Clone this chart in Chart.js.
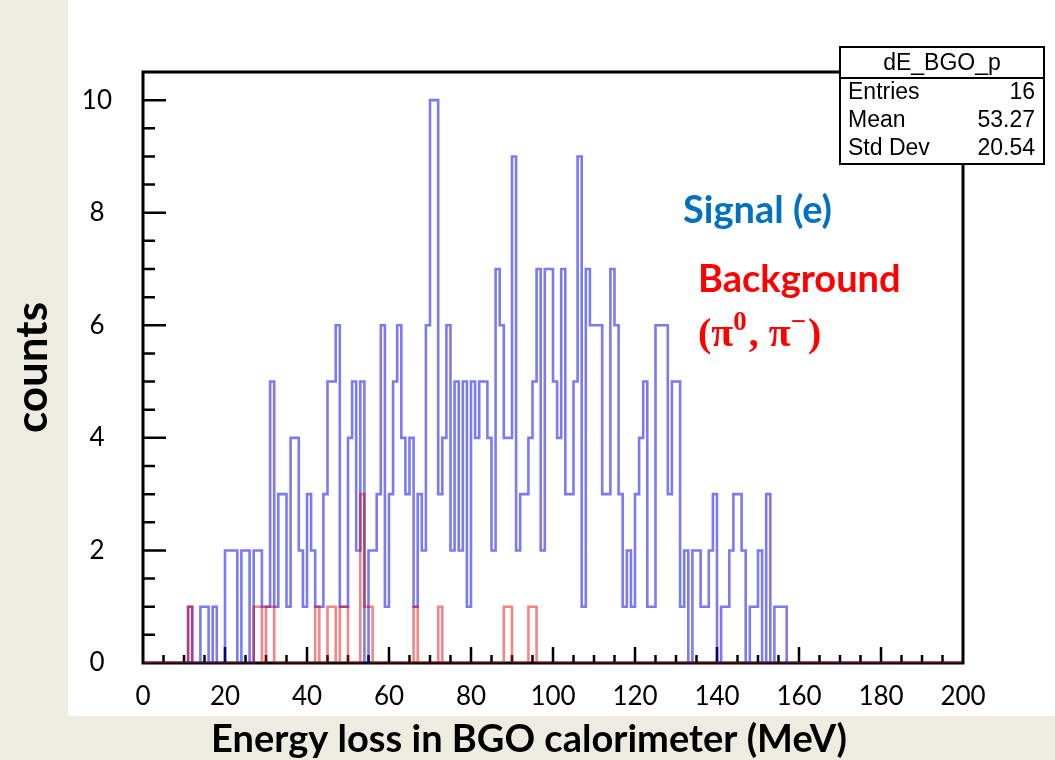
<!DOCTYPE html>
<html>
<head>
<meta charset="utf-8">
<title>dE_BGO</title>
<script src="https://cdn.jsdelivr.net/npm/chart.js@4.4.1/dist/chart.umd.min.js"></script>
<style>
  html, body { margin: 0; padding: 0; background: #eeece1; }
  #wrap { width: 1055px; height: 760px; }
</style>
</head>
<body>
<div id="wrap"><canvas id="histChart" width="1055" height="760"></canvas></div>
<script>
// histogram binning: 200 bins of 1 MeV from 0 to 200
const BIN_LOW = 0;
const BIN_WIDTH = 1;

// signal (e) counts per bin
const SIGNAL_COUNTS = [
  0, 0, 0, 0, 0, 0, 0, 0, 0, 0,  0, 1, 0, 0, 1, 1, 0, 1, 0, 0,
  2, 2, 2, 0, 2, 2, 0, 2, 2, 1,  1, 5, 1, 3, 3, 1, 4, 4, 2, 1,
  3, 2, 1, 1, 3, 5, 5, 6, 1, 1,  4, 5, 2, 5, 0, 2, 2, 3, 6, 1,
  3, 5, 6, 4, 3, 4, 1, 3, 2, 6, 10,10, 3, 4, 6, 2, 5, 2, 5, 1,
  5, 4, 5, 5, 4, 2, 7, 6, 4, 4,  9, 2, 3, 3, 4, 5, 7, 2, 7, 7,
  5, 4, 7, 3, 3, 5, 9, 1, 7, 6,  6, 6, 3, 3, 7, 6, 3, 1, 2, 1,
  3, 4, 5, 1, 1, 6, 6, 6, 3, 5,  5, 1, 2, 0, 2, 2, 1, 1, 2, 3,
  0, 1, 1, 2, 3, 3, 2, 0, 1, 1,  2, 0, 3, 0, 1, 1, 1, 0, 0, 0,
  0, 0, 0, 0, 0, 0, 0, 0, 0, 0,  0, 0, 0, 0, 0, 0, 0, 0, 0, 0,
  0, 0, 0, 0, 0, 0, 0, 0, 0, 0,  0, 0, 0, 0, 0, 0, 0, 0, 0, 0
];

// background (pi0, pi-) counts per bin
const BACKGROUND_COUNTS = [
  0, 0, 0, 0, 0, 0, 0, 0, 0, 0,  0, 1, 0, 0, 0, 0, 0, 0, 0, 0,
  0, 0, 0, 0, 0, 0, 0, 1, 1, 0,  1, 1, 0, 0, 0, 0, 0, 0, 0, 0,
  0, 0, 1, 0, 0, 1, 1, 0, 1, 1,  0, 0, 0, 3, 1, 1, 0, 0, 0, 0,
  0, 0, 0, 0, 0, 0, 1, 0, 0, 0,  0, 0, 1, 0, 0, 0, 0, 0, 0, 0,
  0, 0, 0, 0, 0, 0, 0, 0, 1, 1,  0, 0, 0, 0, 1, 1, 0, 0, 0, 0,
  0, 0, 0, 0, 0, 0, 0, 0, 0, 0,  0, 0, 0, 0, 0, 0, 0, 0, 0, 0,
  0, 0, 0, 0, 0, 0, 0, 0, 0, 0,  0, 0, 0, 0, 0, 0, 0, 0, 0, 0,
  0, 0, 0, 0, 0, 0, 0, 0, 0, 0,  0, 0, 0, 0, 0, 0, 0, 0, 0, 0,
  0, 0, 0, 0, 0, 0, 0, 0, 0, 0,  0, 0, 0, 0, 0, 0, 0, 0, 0, 0,
  0, 0, 0, 0, 0, 0, 0, 0, 0, 0,  0, 0, 0, 0, 0, 0, 0, 0, 0, 0
];

// axes
const X_MIN = 0, X_MAX = 200, X_MINOR = 5;
const Y_MIN = 0, Y_MAX = 10.5, Y_MINOR = 0.5;
const X_TICKS = [0, 20, 40, 60, 80, 100, 120, 140, 160, 180, 200];
const Y_TICKS = [0, 2, 4, 6, 8, 10];

// texts
const X_TITLE = 'Energy loss in BGO calorimeter (MeV)';
const Y_TITLE = 'counts';
const STATS_TITLE = 'dE_BGO_p';
const STATS_ROWS = [['Entries', '16'], ['Mean', '53.27'], ['Std Dev', '20.54']];
const SIGNAL_LABEL = 'Signal (e)';
const BACKGROUND_LABEL = 'Background';
// [text, isSuperscript]
const PI_LABEL = [['(π', false], ['0', true], [', π', false], ['−', true], [')', false]];

const PAGE_BG = '#eeece1';
const SIGNAL_LINE = 'rgba(0, 0, 235, 0.52)';
const BACKGROUND_LINE = 'rgba(230, 0, 0, 0.48)';
const HIST_LINE_WIDTH = 2.6;

function histPoints(counts) {
  const pts = counts.map((c, i) => ({ x: BIN_LOW + i * BIN_WIDTH, y: c }));
  // close the last bin at its upper edge
  pts.push({ x: BIN_LOW + counts.length * BIN_WIDTH, y: counts[counts.length - 1] });
  return pts;
}

function drawPiLabel(ctx, x, y) {
  let cx = x;
  PI_LABEL.forEach(([txt, sup]) => {
    ctx.font = sup ? 'bold 27px "Liberation Serif", serif' : 'bold 40px "Liberation Serif", serif';
    ctx.fillText(txt, cx, sup ? y - 16 : y);
    cx += ctx.measureText(txt).width + (sup ? 2 : 0);
  });
}

const rootStyle = {
  id: 'rootStyle',
  beforeDraw(chart) {
    const { ctx, width, height } = chart;
    ctx.save();
    ctx.fillStyle = PAGE_BG;
    ctx.fillRect(0, 0, width, height);
    ctx.fillStyle = '#ffffff';
    ctx.fillRect(68, 0, width - 68, 716);
    ctx.restore();
  },
  beforeDatasetsDraw(chart) {
    // ROOT style frame with inward tick marks
    const { ctx, chartArea: a, scales: { x, y } } = chart;
    ctx.save();
    ctx.strokeStyle = '#000';
    ctx.lineWidth = 3;
    ctx.strokeRect(a.left, a.top, a.right - a.left, a.bottom - a.top);
    ctx.lineWidth = 2.5;
    ctx.beginPath();
    for (let v = Y_MIN + Y_MINOR; v < Y_MAX; v += Y_MINOR) {
      const py = y.getPixelForValue(v);
      const len = Y_TICKS.includes(v) ? 23 : 12;
      ctx.moveTo(a.left, py);
      ctx.lineTo(a.left + len, py);
    }
    for (let v = X_MIN + X_MINOR; v < X_MAX; v += X_MINOR) {
      const px = x.getPixelForValue(v);
      const len = X_TICKS.includes(v) ? 16 : 8;
      ctx.moveTo(px, a.bottom);
      ctx.lineTo(px, a.bottom - len);
    }
    ctx.stroke();
    ctx.restore();
  },
  afterDraw(chart) {
    const { ctx } = chart;
    ctx.save();

    // stats box
    const bx = 840, by = 47, bw = 204, bh = 117;
    ctx.fillStyle = '#fff';
    ctx.fillRect(bx, by, bw, bh);
    ctx.strokeStyle = '#000';
    ctx.lineWidth = 2;
    ctx.strokeRect(bx, by, bw, bh);
    ctx.beginPath();
    ctx.moveTo(bx, by + 31);
    ctx.lineTo(bx + bw, by + 31);
    ctx.stroke();
    ctx.fillStyle = '#000';
    ctx.font = '23px "Liberation Sans", Arial, sans-serif';
    ctx.textBaseline = 'middle';
    ctx.textAlign = 'center';
    ctx.fillText(STATS_TITLE, bx + bw / 2, by + 17);
    STATS_ROWS.forEach(([k, v], i) => {
      const ty = by + 46 + i * 28;
      ctx.textAlign = 'left';
      ctx.fillText(k, bx + 8, ty);
      ctx.textAlign = 'right';
      ctx.fillText(v, bx + bw - 9, ty);
    });

    // annotations
    ctx.textAlign = 'left';
    ctx.textBaseline = 'alphabetic';
    ctx.fillStyle = '#0070c0';
    ctx.font = 'bold 38px Lato, "Open Sans", sans-serif';
    ctx.fillText(SIGNAL_LABEL, 683, 223);
    ctx.fillStyle = '#ff0000';
    ctx.fillText(BACKGROUND_LABEL, 698, 292);
    drawPiLabel(ctx, 698, 346);

    // x axis title
    ctx.fillStyle = '#000';
    ctx.textAlign = 'center';
    ctx.font = 'bold 38px Lato, "Open Sans", sans-serif';
    ctx.fillText(X_TITLE, 529, 752);
    ctx.restore();
  }
};

new Chart(document.getElementById('histChart'), {
  type: 'line',
  data: {
    datasets: [
      {
        label: SIGNAL_LABEL,
        data: histPoints(SIGNAL_COUNTS),
        borderColor: SIGNAL_LINE,
        borderWidth: HIST_LINE_WIDTH,
        stepped: true,
        pointRadius: 0,
        fill: false,
        order: 2
      },
      {
        // drawn on top of the signal
        label: BACKGROUND_LABEL,
        data: histPoints(BACKGROUND_COUNTS),
        borderColor: BACKGROUND_LINE,
        borderWidth: HIST_LINE_WIDTH,
        stepped: true,
        pointRadius: 0,
        fill: false,
        order: 1
      }
    ]
  },
  options: {
    responsive: false,
    devicePixelRatio: 1,
    animation: false,
    layout: { padding: { top: 72, right: 92, bottom: 0, left: 0 } },
    plugins: {
      legend: { display: false },
      tooltip: { enabled: false }
    },
    scales: {
      x: {
        type: 'linear',
        min: X_MIN,
        max: X_MAX,
        grid: { display: false, drawTicks: false },
        border: { display: false },
        ticks: {
          color: '#000',
          padding: 18,
          maxRotation: 0,
          autoSkip: false,
          font: { family: 'Lato', size: 26 }
        },
        afterBuildTicks(scale) {
          scale.ticks = X_TICKS.map(v => ({ value: v }));
        },
        afterFit(scale) { scale.height = 97; }
      },
      y: {
        min: Y_MIN,
        max: Y_MAX,
        grid: { display: false, drawTicks: false },
        border: { display: false },
        ticks: {
          color: '#000',
          padding: 31,
          crossAlign: 'center',
          autoSkip: false,
          font: { family: 'Lato', size: 26 }
        },
        afterBuildTicks(scale) {
          scale.ticks = Y_TICKS.map(v => ({ value: v }));
        },
        title: {
          display: true,
          text: Y_TITLE,
          color: '#000',
          padding: { top: 6, bottom: 0 },
          font: { family: 'Lato', size: 44, weight: 'bold' }
        },
        afterFit(scale) { scale.width = 143; }
      }
    }
  },
  plugins: [rootStyle]
});
</script>
</body>
</html>
